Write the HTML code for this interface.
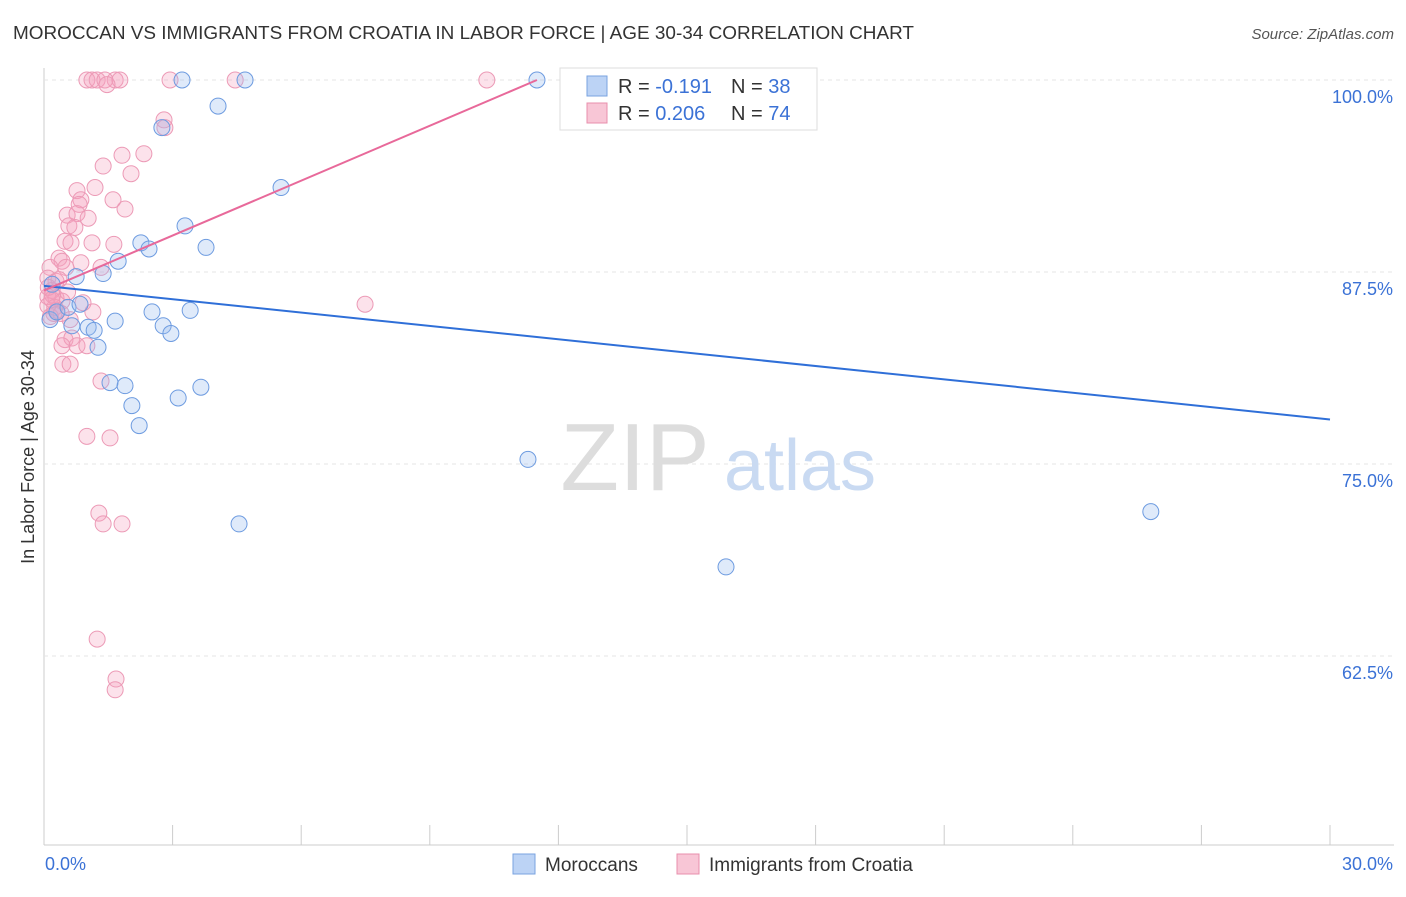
<!DOCTYPE html>
<html><head><meta charset="utf-8"><style>
body{margin:0;background:#fff;font-family:"Liberation Sans",sans-serif;}
svg text{font-family:"Liberation Sans",sans-serif;}
</style></head><body>
<svg id="c" width="1406" height="892" xmlns="http://www.w3.org/2000/svg">
<text x="13" y="39" font-size="18" fill="#333" textLength="901" lengthAdjust="spacingAndGlyphs">MOROCCAN VS IMMIGRANTS FROM CROATIA IN LABOR FORCE | AGE 30-34 CORRELATION CHART</text>
<text x="1394" y="39" font-size="15" fill="#555" text-anchor="end" font-style="italic">Source: ZipAtlas.com</text>
<text transform="translate(34,457) rotate(-90)" font-size="18" fill="#333" text-anchor="middle">In Labor Force | Age 30-34</text>
<g id="grid"></g>
<g>
<text x="635" y="490" font-size="96" fill="#ddd" font-family="Liberation Serif" text-anchor="middle">ZIP</text>
<text x="800" y="490" font-size="72" fill="#c9daf2" text-anchor="middle">atlas</text>
</g>
<g id="pts"></g>
<g id="lines"></g>
<g>
<rect x="560" y="68" width="257" height="62" fill="#fff" stroke="#ddd"/>
<rect x="587" y="76" width="20" height="20" fill="#bcd3f5" stroke="#7aa3e0"/>
<text x="618" y="93" font-size="20" fill="#333">R = <tspan fill="#3b72d6">-0.191</tspan></text>
<text x="731" y="93" font-size="20" fill="#333">N = <tspan fill="#3b72d6">38</tspan></text>
<rect x="587" y="103" width="20" height="20" fill="#f8c6d6" stroke="#e88fac"/>
<text x="618" y="120" font-size="20" fill="#333">R = <tspan fill="#3b72d6">0.206</tspan></text>
<text x="731" y="120" font-size="20" fill="#333">N = <tspan fill="#3b72d6">74</tspan></text>
</g>
<g>
<rect x="513" y="854" width="22" height="20" fill="#bcd3f5" stroke="#7aa3e0"/>
<text x="545" y="871" font-size="19" fill="#333">Moroccans</text>
<rect x="677" y="854" width="22" height="20" fill="#f8c6d6" stroke="#e88fac"/>
<text x="709" y="871" font-size="19" fill="#333">Immigrants from Croatia</text>
</g>
</svg>
<script>
const yTicks=[100,87.5,75,62.5];
const yTickLabels=["100.0%","87.5%","75.0%","62.5%"];
const xTickVals=[0,3,6,9,12,15,18,21,24,27,30];
const blueX=[11.5,3.22,4.69,12.7,4.06,2.75,5.53,3.29,2.26,2.45,3.78,1.73,1.38,0.75,0.19,0.14,0.3,0.56,0.84,0.65,1.03,1.17,1.66,2.52,3.41,2.78,2.96,1.26,1.54,1.89,3.66,2.05,3.13,2.22,11.29,4.55,25.82,15.91];
const blueY=[100,100,100,100,98.3,96.9,93.0,90.5,89.4,89.0,89.1,88.2,87.4,87.2,86.7,84.4,84.9,85.2,85.4,84.0,83.9,83.7,84.3,84.9,85.0,84.0,83.5,82.6,80.3,80.1,80.0,78.8,79.3,77.5,75.3,71.1,71.9,68.3];
const pinkX=[1.0,1.12,1.24,1.66,1.42,1.77,2.94,4.46,10.33,1.47,2.8,2.82,1.82,2.33,1.38,2.03,1.19,0.77,0.86,0.82,1.61,1.89,0.54,0.77,1.03,0.58,0.72,0.49,0.63,1.12,1.63,0.35,0.42,0.86,0.51,1.33,0.14,0.09,0.28,0.19,0.09,0.28,0.42,0.09,0.91,7.49,1.14,0.23,0.61,0.49,0.65,0.42,0.77,1.0,0.44,0.61,1.33,1.0,1.54,1.28,1.38,1.82,1.24,1.68,1.66,0.2,0.3,0.15,0.1,0.25,0.4,0.55,0.35,0.18];
const pinkY=[100,100,100,100,100,100,100,100,100,99.7,97.4,96.9,95.1,95.2,94.4,93.9,93.0,92.8,92.2,91.9,92.2,91.6,91.2,91.3,91.0,90.5,90.4,89.5,89.4,89.4,89.3,88.4,88.2,88.1,87.8,87.8,87.8,87.1,86.9,86.3,85.9,85.8,85.6,85.3,85.5,85.4,84.9,84.8,84.4,83.1,83.2,82.7,82.7,82.7,81.5,81.5,80.4,76.8,76.7,71.8,71.1,71.1,63.6,61.0,60.3,86.0,85.0,84.6,86.5,85.2,84.8,86.2,87.0,85.7];
const blueTrend=[[0,86.6],[30,77.9]];
const pinkTrend=[[0,86.3],[11.5,100]];
const X=v=>44+v*(1286/30);
const Y=v=>80+(100-v)*(192/12.5);
const NS="http://www.w3.org/2000/svg";
function mk(t,a,p){const e=document.createElementNS(NS,t);for(const k in a)e.setAttribute(k,a[k]);p.appendChild(e);return e;}
const g=document.getElementById('grid');
let ax=mk('line',{x1:44,y1:68,x2:44,y2:845,stroke:'#ccc'},g);


let bx=mk('line',{x1:44,y1:845,x2:1394,y2:845,stroke:'#ccc'},g);


yTicks.forEach((v,i)=>{
 const l=mk('line',{x1:44,y1:Y(v),x2:1394,y2:Y(v),stroke:'#e4e4e4','stroke-dasharray':'4,4'},g);
 
 
 const t=mk('text',{x:1393,y:Y(v)+23,'font-size':18,fill:'#3b72d6','text-anchor':'end'},g);
 t.textContent=yTickLabels[i];
 
 
});
xTickVals.forEach(v=>{
 const l=mk('line',{x1:X(v),y1:825,x2:X(v),y2:845,stroke:'#ccc'},g);
 
 
});
const xl0=mk('text',{x:45,y:870,'font-size':18,fill:'#3b72d6'},g);xl0.textContent='0.0%';


const xl1=mk('text',{x:1393,y:870,'font-size':18,fill:'#3b72d6','text-anchor':'end'},g);xl1.textContent='30.0%';


const p=document.getElementById('pts');
pinkX.forEach((v,i)=>{const c=mk('circle',{cx:X(v),cy:Y(pinkY[i]),r:8,fill:'rgba(244,160,190,0.3)',stroke:'#ec9ab6','stroke-width':1},p);
 
 });
blueX.forEach((v,i)=>{const c=mk('circle',{cx:X(v),cy:Y(blueY[i]),r:8,fill:'rgba(150,185,240,0.3)',stroke:'#6d9be0','stroke-width':1},p);
 
 });
const L=document.getElementById('lines');
const b=mk('line',{x1:X(blueTrend[0][0]),y1:Y(blueTrend[0][1]),x2:X(blueTrend[1][0]),y2:Y(blueTrend[1][1]),stroke:'#2f6fd8','stroke-width':2},L);


const q=mk('line',{x1:X(pinkTrend[0][0]),y1:Y(pinkTrend[0][1]),x2:X(pinkTrend[1][0]),y2:Y(pinkTrend[1][1]),stroke:'#e8699a','stroke-width':2},L);


</script>
</body></html>
